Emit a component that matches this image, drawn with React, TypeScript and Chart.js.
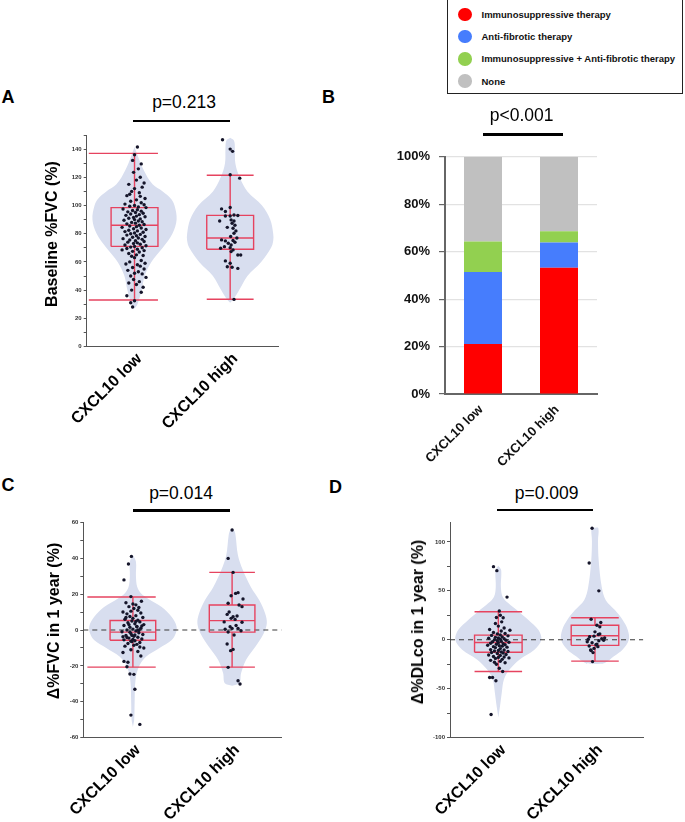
import { useEffect, useRef } from 'react';
import { Chart, registerables } from 'chart.js';

Chart.register(...registerables);

const FONT = '"Liberation Sans", Arial, Helvetica, sans-serif';
Chart.defaults.font.family = FONT;

const groups = ['CXCL10 low', 'CXCL10 high'];

// ---- Panel A: baseline %FVC ----
// points: [jitter offset, value]
const baseFvcLowPoints: [number, number][] = [
  [0.03, 141.5], [0.0, 136], [0.07, 129.5], [-0.02, 132], [0.04, 126],
  [-0.01, 123.5], [0.06, 120], [0.02, 118], [0.1, 116], [-0.06, 115],
  [0.08, 113], [0.0, 112], [-0.03, 110], [0.05, 109], [-0.05, 108],
  [-0.08, 107], [0.06, 106.5], [0.11, 105], [0.02, 104], [-0.04, 103],
  [0.07, 102], [-0.1, 101], [0.1, 100.5], [0.0, 100], [-0.05, 99.5],
  [0.04, 99], [0.12, 98.5], [-0.12, 97.5], [0.03, 97], [-0.02, 96.5],
  [0.07, 96], [-0.07, 95.5], [0.01, 95], [0.09, 94.5], [-0.04, 94],
  [0.05, 93.5], [-0.09, 93], [0.02, 92.5], [0.11, 92], [-0.01, 91.5],
  [-0.06, 91], [0.06, 90.5], [0.0, 90], [-0.11, 89.5], [0.04, 89],
  [0.08, 88.5], [-0.03, 88], [0.01, 87.5], [-0.08, 87], [0.1, 86.5],
  [0.05, 86], [-0.05, 85.5], [0.02, 85], [-0.13, 84.5], [0.07, 84],
  [-0.01, 83.5], [0.12, 83], [-0.06, 82.5], [0.03, 82], [-0.1, 81.5],
  [0.09, 81], [0.0, 80.5], [-0.04, 80], [0.06, 79.5], [-0.08, 79],
  [0.02, 78.5], [0.11, 78], [-0.02, 77.5], [0.04, 77], [-0.12, 76.5],
  [0.08, 76], [-0.05, 75.5], [0.01, 75], [0.1, 74.5], [-0.07, 74],
  [0.03, 73.5], [-0.01, 73], [0.06, 72.5], [-0.1, 72], [0.12, 71.5],
  [0.0, 71], [-0.04, 70.5], [0.08, 70], [-0.08, 69.5], [0.03, 69],
  [-0.13, 68.5], [0.1, 68], [-0.02, 67.5], [0.05, 67], [-0.06, 66],
  [0.02, 65], [0.09, 64.5], [-0.03, 64], [0.0, 63], [0.07, 61],
  [-0.05, 60], [0.11, 59], [-0.09, 58.5], [0.03, 58], [0.06, 57],
  [-0.02, 56], [0.1, 55], [-0.07, 54], [0.04, 53], [0.0, 52],
  [0.08, 51.5], [-0.04, 50], [0.12, 49], [-0.01, 47.5], [0.05, 46],
  [-0.06, 45], [0.02, 44], [0.09, 42], [-0.03, 40], [0.07, 38.5],
  [-0.08, 36], [0.0, 32.5], [-0.04, 31], [-0.02, 28],
];
const baseFvcHighPoints: [number, number][] = [
  [-0.08, 146.6], [0.0, 140], [0.025, 138.4], [0.0, 121.8], [0.1, 119.4],
  [-0.09, 97.6], [-0.05, 95.7], [0.0, 98.6], [0.04, 93.3], [0.08, 92.9],
  [-0.05, 92.6], [0.0, 92.6], [-0.11, 89], [0.01, 89.8], [0.04, 89],
  [0.02, 87.4], [0.05, 86], [-0.03, 84.5], [0.03, 83.9], [0.06, 82],
  [0.04, 80.3], [0.005, 78], [0.07, 77], [-0.09, 75.6], [-0.05, 74.9],
  [0.03, 75.2], [0.05, 73.9], [-0.02, 73.2], [0.01, 72], [-0.06, 70.8],
  [-0.1, 69.7], [0.0, 70.1], [0.03, 68.5], [0.01, 67.3], [0.08, 64.9],
  [0.11, 64.9], [-0.05, 60.7], [0.0, 59], [-0.03, 56.6], [0.02, 56.2],
  [0.08, 55.4], [0.04, 33.4],
];
// [min, q1, median, q3, max]
const baseFvcLowBox = [33, 71, 86, 98.5, 137];
const baseFvcHighBox = [33.5, 69, 77, 93, 121.5];
const baseFvcLowViolinY = [27, 30, 40, 50, 60, 70, 80, 90, 100, 105, 110, 115, 125, 135, 141.5];
const baseFvcLowViolinD = [0, 0.07, 0.17, 0.24, 0.4, 0.67, 0.9, 1, 0.95, 0.86, 0.67, 0.43, 0.22, 0.08, 0];
const baseFvcHighViolinY = [31, 34, 40, 50, 60, 70, 75, 80, 90, 100, 110, 120, 130, 140, 146, 148];
const baseFvcHighViolinD = [0, 0.09, 0.21, 0.4, 0.72, 0.95, 1, 1, 0.93, 0.74, 0.4, 0.22, 0.12, 0.11, 0.09, 0];

// ---- Panel B: treatment share ----
const therapyLabels = [
  'Immunosuppressive therapy',
  'Anti-fibrotic therapy',
  'Immunosuppressive + Anti-fibrotic therapy',
  'None',
];
const therapyColors = ['#ff0000', '#467dfd', '#92d050', '#c0c0c0'];
const immunoPct = [21.1, 53.2];
const antifibroticPct = [30.3, 10.7];
const combinedPct = [12.9, 4.7];
const nonePct = [35.7, 31.4];
const pctTicks = [0, 20, 40, 60, 80, 100];

// ---- Panel C: change in %FVC ----
const dFvcLowPoints: [number, number][] = [
  [-0.015, 41], [-0.045, 36.8], [-0.09, 27.9], [-0.02, 18.6], [0.086, 16],
  [-0.07, 15.2], [0.0, 14.5], [0.03, 14], [-0.04, 13], [0.06, 12.5],
  [0.01, 12], [-0.1, 10], [0.05, 11], [-0.02, 10.5], [0.08, 9.5],
  [-0.06, 9], [0.03, 8], [-0.03, 7.5], [0.1, 7], [0.0, 6.5],
  [-0.08, 6], [0.05, 5.5], [-0.01, 5], [0.07, 4.5], [-0.05, 4],
  [0.02, 3.5], [0.11, 3], [-0.09, 2.5], [0.04, 2], [-0.03, 1.5],
  [0.08, 1], [0.0, 0.5], [-0.06, 0], [0.03, -0.5], [-0.11, -1],
  [0.06, -1.5], [-0.02, -2], [0.1, -2.5], [-0.07, -3], [0.01, -3.5],
  [0.05, -4], [-0.04, -4.5], [0.09, -5], [-0.09, -5.5], [0.02, -6],
  [-0.01, -6.5], [0.07, -7], [-0.05, -7.5], [0.04, -8], [-0.08, -9],
  [0.11, -10], [-0.02, -11], [0.05, -12], [-0.1, -12.5], [0.08, -14.5],
  [-0.09, -17.5], [-0.05, -18], [-0.06, -20.5], [-0.03, -24.5], [0.01, -24.7],
  [0.02, -33], [-0.02, -47.4], [0.07, -52.6], [-0.03, -1.2], [0.02, -2.8],
  [-0.06, -4.2], [0.04, 1.8], [-0.02, -6.2], [0.06, -0.2], [-0.04, 3],
  [0.01, -8.5], [-0.07, 7], [0.09, 2.2], [0.0, -5.2], [0.03, 4.8],
  [-0.1, -3.8], [0.07, -9.5], [-0.01, -3], [0.05, 0],
];
const dFvcHighPoints: [number, number][] = [
  [0.0, 55.7], [-0.04, 39.9], [0.01, 32.1], [0.035, 20.4], [0.06, 20.8],
  [-0.01, 19.1], [0.11, 17.3], [-0.04, 14.9], [0.07, 13.9], [0.1, 13],
  [-0.03, 10], [-0.05, 8.7], [0.05, 7.8], [0.01, 7.4], [-0.01, 6.5],
  [0.03, 5.9], [-0.08, 4.5], [0.1, 4.3], [0.04, 2.5], [-0.02, 1.8],
  [-0.07, 0.4], [0.0, 0.9], [0.06, 0.9], [0.09, -0.4], [-0.04, -1.1],
  [0.02, -2.8], [-0.05, -7.8], [-0.015, -11.5], [0.01, -10.8], [-0.04, -20.8],
  [0.06, -28.3], [0.08, -30.1],
];
const dFvcLowBox = [-20.7, -5.7, -1.2, 5.3, 18.4];
const dFvcHighBox = [-20.7, -1.2, 5.2, 13.9, 32.1];
const dFvcLowViolinY = [-54, -50, -40, -27.8, -20.4, -14.9, -10, -5.6, -2, 2, 7.2, 12.8, 17.6, 20, 24, 30, 38, 41.8];
const dFvcLowViolinD = [0, 0.03, 0.04, 0.06, 0.14, 0.3, 0.61, 0.89, 0.98, 1, 0.89, 0.66, 0.34, 0.2, 0.1, 0.07, 0.07, 0];
const dFvcHighViolinY = [-31, -29.7, -24, -16.7, -9.3, -1.9, 3.7, 9.3, 16.7, 24, 33.4, 41.5, 52.6, 55, 56.7];
const dFvcHighViolinD = [0, 0.21, 0.26, 0.4, 0.67, 0.91, 1, 0.95, 0.78, 0.54, 0.31, 0.17, 0.1, 0.07, 0];

// ---- Panel D: change in %DLco ----
const dDlcoLowPoints: [number, number][] = [
  [-0.05, 74.7], [-0.015, 70.6], [0.09, 43.6], [0.01, 29.4], [0.02, 25],
  [-0.02, 22.7], [0.05, 22.5], [0.035, 18.3], [-0.03, 16.6], [0.0, 14],
  [0.06, 12], [-0.09, 10.5], [0.12, 9.8], [0.03, 9], [-0.05, 7.5],
  [0.07, 6.5], [-0.01, 6], [0.02, 5], [-0.07, 4.5], [0.1, 4],
  [0.04, 3], [-0.03, 2.5], [0.0, 2], [-0.1, 1.5], [0.06, 1],
  [0.02, 0.5], [-0.04, 0], [0.08, -0.5], [-0.01, -1], [0.03, -1.5],
  [-0.06, -2], [0.11, -2.5], [0.0, -3], [-0.08, -3.5], [0.05, -4],
  [-0.02, -4.5], [0.07, -5], [-0.11, -5.5], [0.01, -6], [0.04, -6.5],
  [-0.05, -7], [0.09, -7.5], [-0.03, -8], [0.02, -9], [-0.08, -10],
  [0.06, -10.5], [0.0, -11], [-0.04, -11.5], [0.1, -12], [0.03, -12.5],
  [-0.07, -13], [0.05, -13.5], [-0.01, -14], [0.08, -15], [-0.1, -15.5],
  [0.02, -16], [-0.05, -17], [0.06, -17.5], [0.0, -18], [0.11, -18.5],
  [-0.03, -19], [0.04, -20], [-0.08, -21], [0.02, -22], [-0.04, -23],
  [0.07, -23.5], [-0.02, -25], [0.01, -29], [0.045, -32.4], [-0.09, -38.5],
  [-0.06, -38.5], [-0.025, -41.9], [-0.075, -76.3],
];
const dDlcoHighPoints: [number, number][] = [
  [-0.03, 113.9], [-0.06, 78.4], [0.04, 50], [-0.04, 21], [0.06, 17.6],
  [0.02, 14.9], [0.05, 13.2], [0.0, 8.1], [0.05, 6], [0.035, 5.4],
  [-0.01, 3.7], [-0.055, 3.1], [0.1, 2], [0.07, 1], [-0.07, 0.5],
  [0.09, -0.5], [0.04, -1], [-0.08, -2], [-0.03, -3], [0.02, -4.4],
  [0.01, -5], [-0.06, -6.4], [0.03, -7], [-0.01, -8.8], [-0.045, -10.4],
  [-0.04, -11], [-0.02, -13.1], [-0.025, -22.3],
];
const dDlcoLowBox = [-32.4, -12.8, -2.7, 4.8, 28.6];
const dDlcoHighBox = [-21.8, -5.7, 4.1, 14.9, 22.5];
const dDlcoLowViolinY = [-79.4, -67.6, -54, -40.5, -30.4, -20.3, -10.1, 0, 10.2, 20.3, 29, 37.5, 44, 54, 67.6, 72, 75.7];
const dDlcoLowViolinD = [0, 0.04, 0.08, 0.13, 0.26, 0.49, 0.84, 1, 0.93, 0.7, 0.47, 0.23, 0.1, 0.06, 0.07, 0.06, 0];
const dDlcoHighViolinY = [-24.7, -23.6, -16.9, -10, 0, 10.1, 20.3, 30.4, 40.5, 54, 81, 101, 114, 114.5];
const dDlcoHighViolinD = [0, 0.29, 0.56, 0.82, 1, 0.97, 0.82, 0.59, 0.32, 0.2, 0.11, 0.09, 0.1, 0];

// ---- styles ----
const VIOLIN_FILL = '#d8deef';
const BOX_RED = '#e6435f';
const DOT = '#15152a';
const AXIS = '#555';

type Group = {
  points: [number, number][];
  box: number[];
  violinY: number[];
  violinD: number[];
};

type ViolinProps = {
  frame: { left: number; top: number; width: number; height: number };
  padTop: number;
  padRight: number;
  yAxisWidth: number;
  xAxisHeight: number;
  yMin: number;
  yMax: number;
  minorStep: number;
  labelStep: number;
  low: Group;
  high: Group;
  violinHalf: [number, number];
  boxHalf: number;
  capLeft: [number, number];
  zeroLine?: boolean;
};

function ViolinPanel(props: ViolinProps) {
  const canvasRef = useRef<HTMLCanvasElement>(null);
  const chartRef = useRef<Chart | null>(null);

  useEffect(() => {
    if (!canvasRef.current) return;
    const ctx = canvasRef.current.getContext('2d');
    if (!ctx) return;

    const {
      low, high, violinHalf, boxHalf, capLeft, zeroLine,
      yMin, yMax, minorStep, labelStep,
    } = props;
    const datasets: any[] = [];

    // violin outlines (left side up, right side down)
    [low, high].forEach((g, i) => {
      const left = g.violinY.map((y, k) => ({ x: i - g.violinD[k] * violinHalf[i], y }));
      const right = g.violinY.map((y, k) => ({ x: i + g.violinD[k] * violinHalf[i], y })).reverse();
      datasets.push({
        data: [...left, ...right],
        showLine: true,
        fill: 'shape',
        backgroundColor: VIOLIN_FILL,
        borderColor: 'rgba(0,0,0,0)',
        borderWidth: 0,
        pointRadius: 0,
        tension: 0.35,
        order: 4,
      });
    });

    if (zeroLine) {
      datasets.push({
        data: [{ x: -0.5, y: 0 }, { x: 1.5, y: 0 }],
        showLine: true,
        borderColor: '#3a3a3a',
        borderWidth: 1.1,
        borderDash: [5, 4],
        pointRadius: 0,
        order: 3,
      });
    }

    // box + whiskers
    [low, high].forEach((g, i) => {
      const [mn, q1, md, q3, mx] = g.box;
      const l = i - boxHalf;
      const r = i + boxHalf;
      const segments = [
        [[l, q1], [r, q1], [r, q3], [l, q3], [l, q1]],
        [[l, md], [r, md]],
        [[i, mn], [i, q1]],
        [[i, q3], [i, mx]],
        [[i - capLeft[i], mx], [r, mx]],
        [[i - capLeft[i], mn], [r, mn]],
      ];
      segments.forEach((seg) => {
        datasets.push({
          data: seg.map(([x, y]) => ({ x, y })),
          showLine: true,
          borderColor: BOX_RED,
          borderWidth: 1.4,
          pointRadius: 0,
          tension: 0,
          order: 2,
        });
      });
    });

    // jittered observations
    [low, high].forEach((g, i) => {
      datasets.push({
        data: g.points.map(([dx, y]) => ({ x: i + dx, y })),
        pointRadius: 1.7,
        pointBackgroundColor: DOT,
        pointBorderWidth: 0,
        order: 0,
      });
    });

    if (chartRef.current) chartRef.current.destroy();

    chartRef.current = new Chart(ctx, {
      type: 'scatter',
      data: { datasets },
      options: {
        animation: false,
        responsive: true,
        maintainAspectRatio: false,
        events: [],
        layout: { padding: { top: props.padTop, right: props.padRight, left: 0, bottom: 0 } },
        plugins: { legend: { display: false }, tooltip: { enabled: false } },
        scales: {
          x: {
            type: 'linear',
            min: -0.5,
            max: 1.5,
            afterBuildTicks: (scale: any) => {
              scale.ticks = [{ value: 0 }, { value: 1 }];
            },
            afterFit: (scale: any) => {
              scale.height = props.xAxisHeight;
            },
            grid: { display: false },
            border: { display: true, color: AXIS, width: 1 },
            ticks: {
              autoSkip: false,
              minRotation: 45,
              maxRotation: 45,
              padding: -5,
              labelOffset: 5,
              color: '#000',
              font: { size: 16, weight: 'bold' },
              callback: (v: any) => groups[Math.round(Number(v))] ?? '',
            },
          },
          y: {
            type: 'linear',
            min: yMin,
            max: yMax,
            afterBuildTicks: (scale: any) => {
              scale.ticks = scale.ticks.filter(
                (t: any) => Math.abs(t.value / minorStep - Math.round(t.value / minorStep)) < 1e-6,
              );
            },
            afterFit: (scale: any) => {
              scale.width = props.yAxisWidth;
            },
            grid: { drawOnChartArea: false, tickLength: 3, tickColor: AXIS },
            border: { display: true, color: AXIS, width: 1 },
            ticks: {
              autoSkip: false,
              stepSize: minorStep,
              padding: 2,
              color: '#333',
              font: { size: 6, weight: 'bold' },
              callback: (v: any) => (Number(v) % labelStep === 0 ? String(v) : ''),
            },
          },
        },
      },
    });

    return () => {
      if (chartRef.current) {
        chartRef.current.destroy();
        chartRef.current = null;
      }
    };
  }, []);

  const f = props.frame;
  return (
    <div style={{ position: 'absolute', left: f.left, top: f.top, width: f.width, height: f.height }}>
      <canvas ref={canvasRef}></canvas>
    </div>
  );
}

function StackedPanel() {
  const canvasRef = useRef<HTMLCanvasElement>(null);
  const chartRef = useRef<Chart | null>(null);

  useEffect(() => {
    if (!canvasRef.current) return;
    const ctx = canvasRef.current.getContext('2d');
    if (!ctx) return;
    if (chartRef.current) chartRef.current.destroy();

    const series = [immunoPct, antifibroticPct, combinedPct, nonePct];

    chartRef.current = new Chart(ctx, {
      type: 'bar',
      data: {
        labels: groups,
        datasets: series.map((values, i) => ({
          label: therapyLabels[i],
          data: values,
          backgroundColor: therapyColors[i],
          borderWidth: 0,
          categoryPercentage: 1,
          barPercentage: 0.5,
        })),
      },
      options: {
        animation: false,
        responsive: true,
        maintainAspectRatio: false,
        events: [],
        layout: { padding: { top: 12, right: 13, left: 0, bottom: 0 } },
        plugins: { legend: { display: false }, tooltip: { enabled: false } },
        scales: {
          x: {
            stacked: true,
            afterFit: (scale: any) => {
              scale.height = 76;
            },
            grid: { display: false },
            border: { display: true, color: '#666', width: 2 },
            ticks: {
              minRotation: 45,
              maxRotation: 45,
              padding: 0,
              labelOffset: -2,
              color: '#111',
              font: { size: 13, weight: 'bold' },
            },
          },
          y: {
            stacked: true,
            min: 0,
            max: 100,
            afterBuildTicks: (scale: any) => {
              scale.ticks = pctTicks.map((value) => ({ value }));
            },
            afterFit: (scale: any) => {
              scale.width = 105;
            },
            grid: { color: '#e2e2e2', lineWidth: 1.2, tickColor: '#666', tickLength: 6 },
            border: { display: true, color: '#666', width: 2 },
            ticks: {
              padding: 9,
              color: '#111',
              font: { size: 13, weight: 'bold' },
              callback: (v: any) => `${v}%`,
            },
          },
        },
      },
    });

    return () => {
      if (chartRef.current) {
        chartRef.current.destroy();
        chartRef.current = null;
      }
    };
  }, []);

  return (
    <div style={{ position: 'absolute', left: 340, top: 140, width: 270, height: 330 }}>
      <canvas ref={canvasRef}></canvas>
    </div>
  );
}

function TherapyLegend() {
  return (
    <div
      style={{
        position: 'absolute',
        left: 447,
        top: -1,
        width: 234,
        height: 93,
        border: '1.3px solid #222',
        background: '#fff',
      }}
    >
      {therapyLabels.map((label, i) => (
        <div
          key={label}
          style={{ position: 'absolute', left: 10, top: 7.5 + i * 22.2, height: 14, display: 'flex', alignItems: 'center' }}
        >
          <span
            style={{ width: 13.5, height: 13.5, borderRadius: '50%', background: therapyColors[i], display: 'inline-block' }}
          ></span>
          <span style={{ marginLeft: 10, fontSize: 9.5, fontWeight: 'bold', color: '#111', whiteSpace: 'nowrap' }}>
            {label}
          </span>
        </div>
      ))}
    </div>
  );
}

function PanelLetter({ text, left, top }: { text: string; left: number; top: number }) {
  return (
    <div style={{ position: 'absolute', left, top, fontSize: 18, lineHeight: '18px', fontWeight: 'bold', color: '#000' }}>
      {text}
    </div>
  );
}

function AxisTitle({ text, cx, cy }: { text: string; cx: number; cy: number }) {
  return (
    <div
      style={{
        position: 'absolute',
        left: cx,
        top: cy,
        transform: 'translate(-50%, -50%) rotate(-90deg)',
        whiteSpace: 'nowrap',
        fontSize: 16,
        lineHeight: '18px',
        fontWeight: 'bold',
        color: '#000',
      }}
    >
      {text}
    </div>
  );
}

function PValue({ text, cx, baseline, bar }: { text: string; cx: number; baseline: number; bar: [number, number, number] }) {
  return (
    <>
      <div
        style={{
          position: 'absolute',
          left: cx - 60,
          width: 120,
          top: baseline - 14.8,
          textAlign: 'center',
          fontSize: 17.5,
          lineHeight: '17.5px',
          color: '#000',
        }}
      >
        {text}
      </div>
      <div style={{ position: 'absolute', left: bar[0], width: bar[1] - bar[0], top: bar[2], height: 2.5, background: '#000' }}></div>
    </>
  );
}

export default function App() {
  return (
    <div
      style={{
        position: 'absolute',
        left: 0,
        top: 0,
        width: 685,
        height: 822,
        background: '#fff',
        overflow: 'hidden',
        fontFamily: FONT,
      }}
    >
      <ViolinPanel
        frame={{ left: 0, top: 125, width: 300, height: 325 }}
        padTop={10}
        padRight={22}
        yAxisWidth={86.7}
        xAxisHeight={103.5}
        yMin={0}
        yMax={150}
        minorStep={10}
        labelStep={20}
        low={{ points: baseFvcLowPoints, box: baseFvcLowBox, violinY: baseFvcLowViolinY, violinD: baseFvcLowViolinD }}
        high={{ points: baseFvcHighPoints, box: baseFvcHighBox, violinY: baseFvcHighViolinY, violinD: baseFvcHighViolinD }}
        violinHalf={[0.44, 0.45]}
        boxHalf={0.245}
        capLeft={[0.478, 0.245]}
      />
      <ViolinPanel
        frame={{ left: 0, top: 510, width: 300, height: 312 }}
        padTop={12.3}
        padRight={18.3}
        yAxisWidth={83.3}
        xAxisHeight={84.3}
        yMin={-60}
        yMax={60}
        minorStep={10}
        labelStep={20}
        low={{ points: dFvcLowPoints, box: dFvcLowBox, violinY: dFvcLowViolinY, violinD: dFvcLowViolinD }}
        high={{ points: dFvcHighPoints, box: dFvcHighBox, violinY: dFvcHighViolinY, violinD: dFvcHighViolinD }}
        violinHalf={[0.44, 0.35]}
        boxHalf={0.23}
        capLeft={[0.459, 0.23]}
        zeroLine
      />
      <ViolinPanel
        frame={{ left: 340, top: 510, width: 325, height: 312 }}
        padTop={12.3}
        padRight={21.7}
        yAxisWidth={110}
        xAxisHeight={84.3}
        yMin={-100}
        yMax={120}
        minorStep={25}
        labelStep={50}
        low={{ points: dDlcoLowPoints, box: dDlcoLowBox, violinY: dDlcoLowViolinY, violinD: dDlcoLowViolinD }}
        high={{ points: dDlcoHighPoints, box: dDlcoHighBox, violinY: dDlcoHighViolinY, violinD: dDlcoHighViolinD }}
        violinHalf={[0.445, 0.35]}
        boxHalf={0.246}
        capLeft={[0.246, 0.246]}
        zeroLine
      />
      <StackedPanel />
      <TherapyLegend />

      <AxisTitle text="Baseline %FVC (%)" cx={51.7} cy={233.5} />
      <AxisTitle text="Δ%FVC in 1 year (%)" cx={54} cy={621} />
      <AxisTitle text="Δ%DLco in 1 year (%)" cx={418} cy={621.7} />

      <PanelLetter text="A" left={1.5} top={87.7} />
      <PanelLetter text="B" left={322} top={87.7} />
      <PanelLetter text="C" left={1.5} top={475.7} />
      <PanelLetter text="D" left={329} top={477.5} />

      <PValue text="p=0.213" cx={184} baseline={108.3} bar={[133.3, 230, 119.5]} />
      <PValue text="p<0.001" cx={521.7} baseline={121.7} bar={[482.7, 562.7, 133]} />
      <PValue text="p=0.014" cx={181} baseline={500} bar={[133.3, 230, 509]} />
      <PValue text="p=0.009" cx={546.7} baseline={499.3} bar={[496.7, 593.3, 508.5]} />
    </div>
  );
}
